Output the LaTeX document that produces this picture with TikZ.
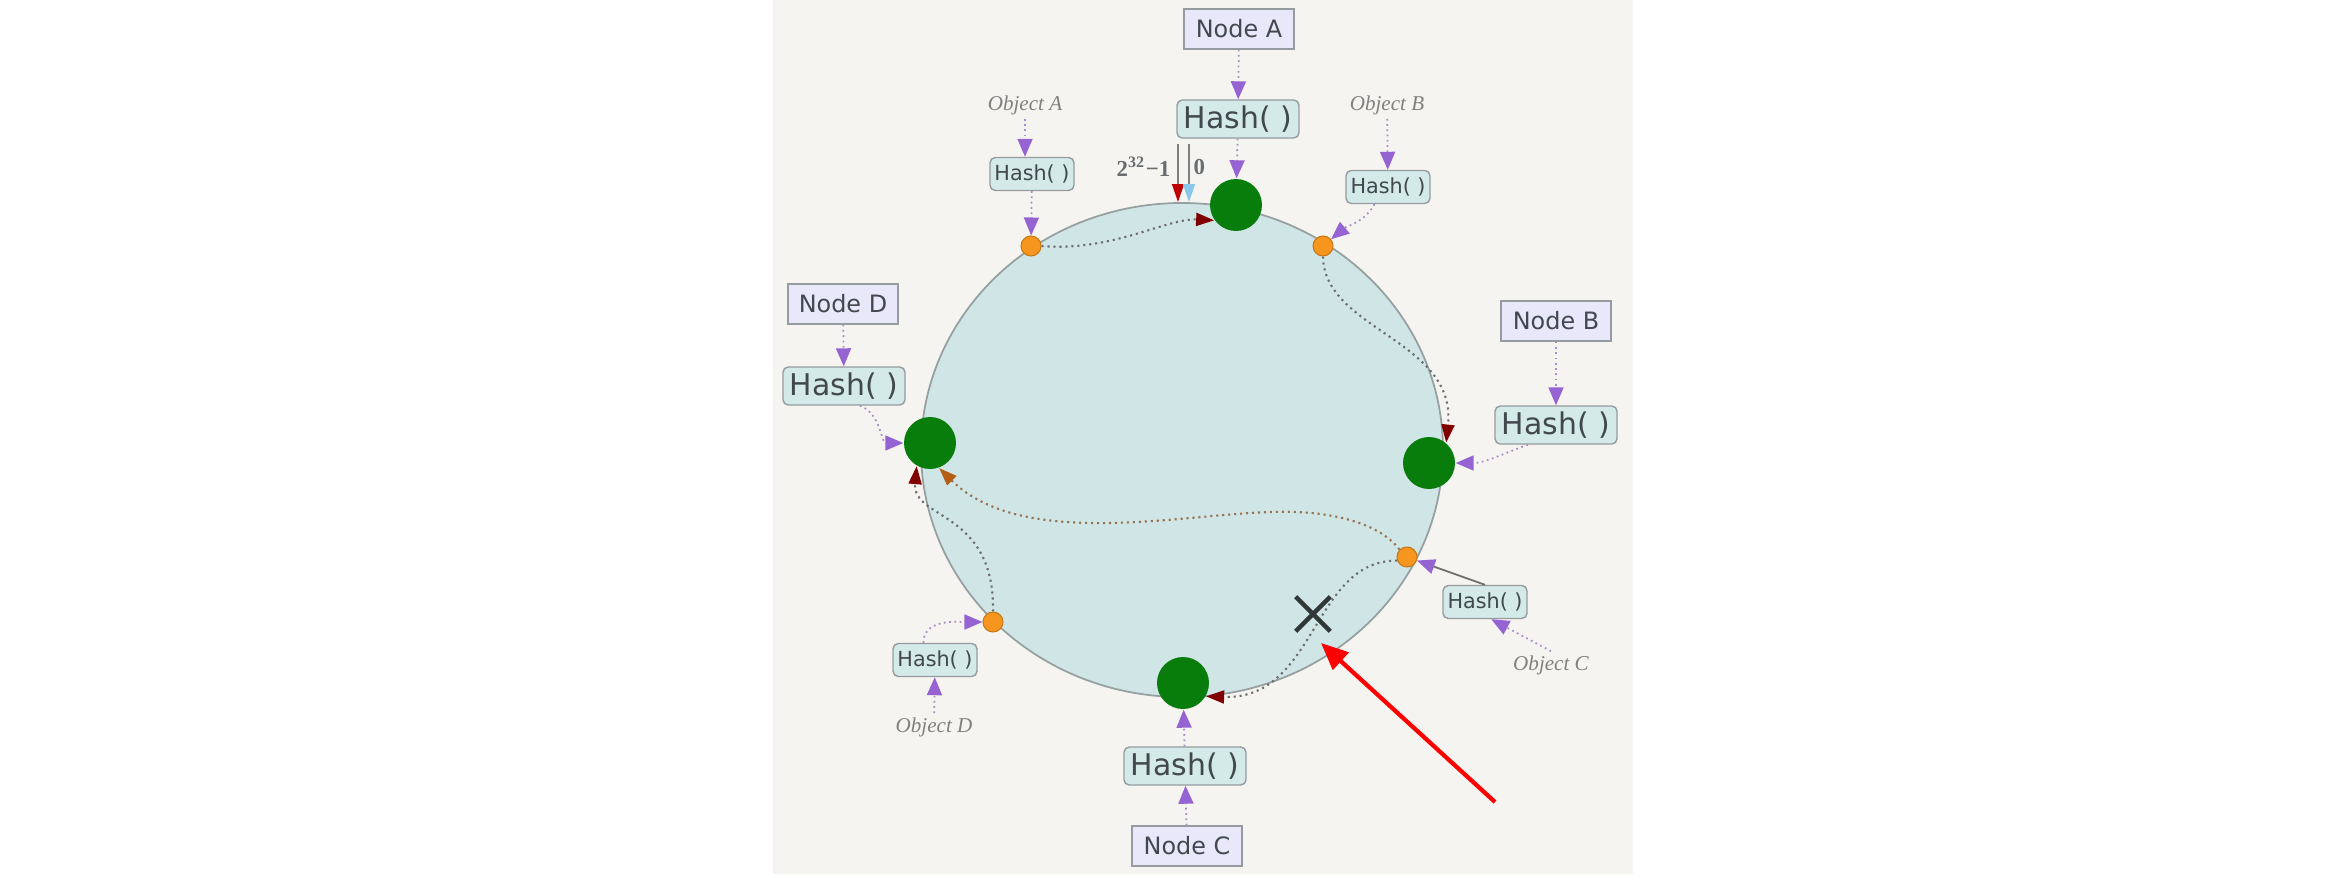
\documentclass[tikz,border=0pt]{standalone}
\usepackage{fontspec}
\setmainfont{DejaVu Sans}
\newfontfamily\objfont{Liberation Serif}
\usetikzlibrary{arrows.meta,shapes.misc}

\definecolor{panelbg}{RGB}{246,244,240}
\definecolor{ringfill}{RGB}{208,230,230}
\definecolor{ringline}{RGB}{150,160,160}
\definecolor{nodegreen}{RGB}{8,125,12}
\definecolor{objorange}{RGB}{247,150,30}
\definecolor{hashfill}{RGB}{212,234,233}
\definecolor{nodefill}{RGB}{232,232,250}
\definecolor{boxline}{RGB}{150,155,160}
\definecolor{labeltext}{RGB}{65,72,78}
\definecolor{hashpurple}{RGB}{150,100,210}
\definecolor{shaftpurple}{RGB}{170,140,200}
\definecolor{darkred}{RGB}{128,0,0}
\definecolor{brownhead}{RGB}{180,95,20}
\definecolor{browndots}{RGB}{150,115,85}
\definecolor{zeroblue}{RGB}{135,200,235}
\definecolor{dotgray}{RGB}{110,110,110}
\definecolor{xgray}{RGB}{50,55,55}

\begin{document}
\begin{tikzpicture}[
	nodebox/.style={draw=boxline, fill=nodefill, minimum width=1.10cm, minimum height=0.40cm, inner sep=0pt, text=labeltext, font=\fontsize{6.8}{8}\selectfont},
	hashbig/.style={draw=boxline, fill=hashfill, rounded corners=1.5pt, minimum width=1.22cm, minimum height=0.38cm, inner sep=0pt, text=labeltext, font=\fontsize{8.5}{10}\selectfont},
	hashsmall/.style={hashbig, minimum width=0.84cm, minimum height=0.33cm, font=\fontsize{5.9}{7}\selectfont},
	objlabel/.style={text=gray, inner sep=1pt, font=\objfont\itshape\fontsize{6}{7}\selectfont},
	server/.style={circle, fill=nodegreen, minimum size=0.52cm, inner sep=0pt},
	objdot/.style={circle, fill=objorange, draw=objorange!80!black, line width=0.3pt, minimum size=0.2cm, inner sep=0pt},
	hasharrow/.style={densely dotted, shaftpurple, line width=0.5pt, -{Triangle[length=1.8mm,width=1.5mm,color=hashpurple]}},
	mapping/.style={dash pattern=on 0.6pt off 1.1pt, dotgray, line width=0.6pt, -{Triangle[length=1.8mm,width=1.3mm,color=darkred]}}
	]
	
	% Khung nen
	\useasboundingbox (-11.82,-4.36) rectangle (11.60,4.50);
	\fill[panelbg] (-4.09,-4.24) rectangle (4.51,4.50);
	
	% Vong bam
	\filldraw[fill=ringfill, draw=ringline, line width=0.5pt] (0,0) ellipse [x radius=2.61, y radius=2.47];
	
	% Cac may chu (Node A..D)
	\node[nodebox] (NA) at (0.57,4.21) {Node A};
	\node[hashbig] (hA) at (0.56,3.31) {Hash( )};
	\node[server] (gA) at (0.54,2.45) {};
	
	\node[nodebox] (NB) at (3.74,1.29) {Node B};
	\node[hashbig] (hB) at (3.74,0.25) {Hash( )};
	\node[server] (gB) at (2.47,-0.13) {};
	
	\node[nodebox] (NC) at (0.05,-3.96) {Node C};
	\node[hashbig] (hC) at (0.03,-3.16) {Hash( )};
	\node[server] (gC) at (0.01,-2.33) {};
	
	\node[nodebox] (ND) at (-3.39,1.46) {Node D};
	\node[hashbig] (hD) at (-3.38,0.64) {Hash( )};
	\node[server] (gD) at (-2.52,0.07) {};
	
	% Cac doi tuong (Object A..D)
	\node[objlabel] (objA) at (-1.57,3.45) {Object A};
	\node[hashsmall] (hoA) at (-1.50,2.76) {Hash( )};
	\node[objdot] (oA) at (-1.51,2.04) {};
	
	\node[objlabel] (objB) at (2.05,3.45) {Object B};
	\node[hashsmall] (hoB) at (2.06,2.63) {Hash( )};
	\node[objdot] (oB) at (1.41,2.04) {};
	
	\node[objlabel] (objC) at (3.69,-2.15) {Object C};
	\node[hashsmall] (hoC) at (3.03,-1.52) {Hash( )};
	\node[objdot] (oC) at (2.25,-1.07) {};
	
	\node[objlabel] (objD) at (-2.48,-2.77) {Object D};
	\node[hashsmall] (hoD) at (-2.47,-2.10) {Hash( )};
	\node[objdot] (oD) at (-1.89,-1.72) {};
	
	% Diem 0 va 2^32-1
	\node[anchor=east, inner sep=0pt, text=labeltext!80, font=\objfont\bfseries\fontsize{6.5}{7}\selectfont] (maxLbl) at (-0.11,2.83) {2\textsuperscript{32}−1};
	\node[anchor=west, inner sep=0pt, text=labeltext!80, font=\objfont\bfseries\fontsize{6.5}{7}\selectfont] (zeroLbl) at (0.11,2.83) {0};
	\coordinate (maxTop) at (-0.04,3.06);
	\coordinate (maxEnd) at (-0.04,2.48);
	\coordinate (zeroTop) at (0.07,3.06);
	\coordinate (zeroEnd) at (0.07,2.48);
	\draw[gray, line width=0.4pt, -{Triangle[length=1.8mm,width=1.2mm,color=red!75!black]}] (maxTop) -- (maxEnd);
	\draw[gray, line width=0.4pt, -{Triangle[length=1.8mm,width=1.2mm,color=zeroblue]}] (zeroTop) -- (zeroEnd);
	
	% Mui ten bam thang
	\foreach \a/\b in {NA/hA, hA/gA, NB/hB, NC/hC, hC/gC, ND/hD, hoA/oA, objB/hoB, objD/hoD} {
		\draw[hasharrow] (\a) -- (\b);
	}
	\draw[hasharrow] (objA) -- (objA |- hoA.north);
	
	% Mui ten bam cong
	\draw[hasharrow] (hoB.232) to[out=240, in=40] (oB);
	\draw[hasharrow] (hB.215) to[out=200, in=0] (gB);
	\draw[hasharrow] (hD.309) to[out=-20, in=180] (gD);
	\draw[hasharrow] (hoD.124) to[out=90, in=180] (oD);
	\draw[hasharrow, solid, dotgray] (hoC.north) -- (oC);
	\draw[hasharrow] (objC.north) -- (hoC.290);
	
	% Doi tuong -> may chu ke tiep (theo chieu kim dong ho)
	\draw[mapping] (oA.east) .. controls (-0.7,1.98) and (-0.15,2.32) .. (gA.215);
	\draw[mapping] (oB.south) .. controls (1.42,1.2) and (2.75,1.1) .. (gB.50);
	\draw[mapping, browndots, -{Triangle[length=1.8mm,width=1.3mm,color=brownhead]}] (oC.135) .. controls (1.95,-0.7) and (1.4,-0.6) .. (0.9,-0.62) .. controls (0,-0.64) and (-1.6,-1.0) .. (gD.290);
	\draw[mapping] (oD.north) .. controls (-1.87,-0.6) and (-2.7,-0.7) .. (gD.240);
	\draw[mapping] (oC.200) .. controls (1.3,-1.1) and (1.35,-2.5) .. (gC.330);
	
	% Dau X va mui ten do
	\node[cross out, draw=xgray, line width=1.3pt, minimum size=0.3cm, inner sep=0pt] (lost) at (1.31,-1.64) {};
	\coordinate (hintStart) at (3.13,-3.52);
	\coordinate (hintEnd) at (1.39,-1.93);
	\draw[red, line width=1.2pt, -{Triangle[length=2.7mm,width=2.3mm]}] (hintStart) -- (hintEnd);
	
\end{tikzpicture}
\end{document}
